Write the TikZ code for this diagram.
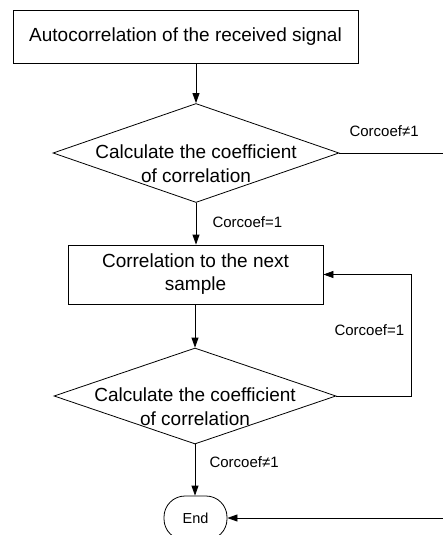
\documentclass[tikz,border=0pt]{standalone}
\usepackage{fontspec}
\setmainfont{Liberation Sans}
\usetikzlibrary{arrows,arrows.meta,shapes.geometric,positioning,calc}
\tikzset{process/.style={ % Plain steps of the chart
            draw, rectangle, line width=0.8pt,
            align=center,
            font=\fontsize{19}{23}\selectfont},
        decision/.style={ % Test on the coefficient, text sits a bit low
            draw, diamond, line width=0.8pt,
            inner sep=0pt},
        dtext/.style={
            align=center, yshift=-11pt,
            font=\fontsize{19}{24}\selectfont},
        terminal/.style={ % End of the chart
            draw, rounded corners=21pt, line width=0.8pt,
            minimum width=63pt, minimum height=44pt,
            font=\fontsize{14.5}{16}\selectfont},
        cond/.style={ % Labels on the branches
            anchor=west,
            font=\fontsize{15}{17}\selectfont},
        flow/.style={ % Makes connectors directed with filled heads
            line width=0.8pt,
            -{Triangle[length=10pt,width=7pt]}}
        }

\begin{document}
\begin{tikzpicture}[x=1pt,y=-1pt]
    \useasboundingbox (0,0) rectangle (443,535);

    \node[process, minimum width=345pt, minimum height=53pt] (autocorr) at (185.5,36.5) {Autocorrelation of the received signal};
    \node[decision, minimum width=286pt, minimum height=99pt,
          label={[dtext]center:Calculate the coefficient\\of correlation}] (calc1) at (196,153) {};
    \node[process, minimum width=255pt, minimum height=59pt] (next) at (195.5,274.5) {Correlation to the next\\sample};
    \node[decision, minimum width=282pt, minimum height=96pt,
          label={[dtext]center:Calculate the coefficient\\of correlation}] (calc2) at (195,396) {};
    \node[terminal] (end) at (195.5,518) {End};

    \coordinate (out1) at (443,153);
    \coordinate (out2) at (443,518);
    \coordinate (loop) at (411,396);

    \draw[flow] (autocorr.south -| calc1.north) -- (calc1.north);
    \draw[flow] (calc1.south) -- (calc1.south |- next.north);
    \draw[flow] (next.south -| calc2.north) -- (calc2.north);
    \draw[flow] (calc2.south) -- (calc2.south |- end.north);
    \draw[line width=0.8pt] (calc1.east) -- (out1);
    \draw[flow] (calc2.east) -- (loop) |- (next.east);
    \draw[flow] (out2) -- (end.east);

    \node[cond] (ne1) at (346,131) {Corcoef≠1};
    \node[cond] (eq1) at (209,222) {Corcoef=1};
    \node[cond] (eq2) at (331,330) {Corcoef=1};
    \node[cond] (ne2) at (206,462) {Corcoef≠1};
\end{tikzpicture}
\end{document}
